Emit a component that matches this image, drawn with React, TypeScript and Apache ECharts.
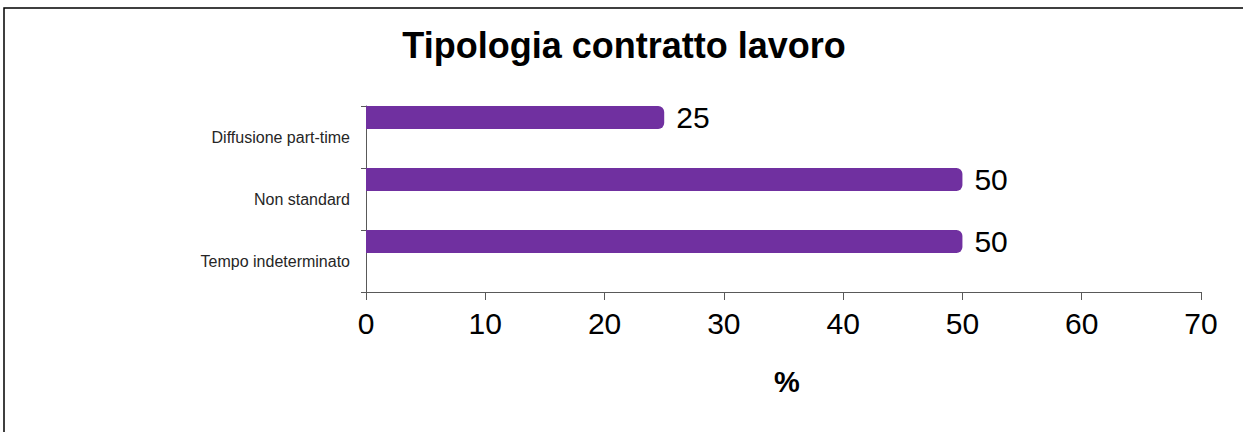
import React, { useEffect, useRef } from "react";
import * as echarts from "echarts";

const categories = ["Tempo indeterminato", "Non standard", "Diffusione part-time"];
const values = [50, 50, 25];
const xTicks = { min: 0, max: 70, interval: 10 };
const titleText = "Tipologia contratto lavoro";
const axisName = "%";

const FONT = "'Liberation Sans', Arial, Helvetica, sans-serif";

export default function App() {
  const ref = useRef<HTMLDivElement>(null);
  useEffect(() => {
    if (!ref.current) return;
    const chart = echarts.init(ref.current, null, { renderer: "svg" });
    chart.setOption({
      animation: false,
      backgroundColor: "#ffffff",
      textStyle: { fontFamily: FONT },
      grid: { left: 366, right: 42, top: 106, bottom: 140, containLabel: false },
      graphic: [
        {
          type: "rect",
          shape: { x: 4, y: 8, width: 1400, height: 600 },
          style: { fill: "none", stroke: "#000000", lineWidth: 1.5 },
          silent: true,
        },
        {
          type: "text",
          x: 624,
          y: 45,
          style: {
            text: titleText,
            font: `bold 36px ${FONT}`,
            fill: "#000000",
            textAlign: "center",
            textVerticalAlign: "middle",
          },
        },
        {
          type: "text",
          x: 787,
          y: 382,
          style: {
            text: axisName,
            font: `bold 29px ${FONT}`,
            fill: "#000000",
            textAlign: "center",
            textVerticalAlign: "middle",
          },
        },
      ],
      xAxis: {
        type: "value",
        min: xTicks.min,
        max: xTicks.max,
        interval: xTicks.interval,
        splitLine: { show: false },
        axisLine: { show: true, lineStyle: { color: "#595959", width: 1 } },
        axisTick: { show: true, length: 8, lineStyle: { color: "#595959" } },
        axisLabel: { fontSize: 30, color: "#000000", margin: 16, fontFamily: FONT },
      },
      yAxis: {
        type: "category",
        data: categories,
        axisLine: { show: true, lineStyle: { color: "#595959", width: 1 } },
        axisTick: { show: true, length: 5, lineStyle: { color: "#595959" } },
        axisLabel: { fontSize: 16, color: "#262626", margin: 16, fontFamily: FONT },
        splitLine: { show: false },
      },
      series: [
        {
          type: "bar",
          data: values,
          barWidth: 23,
          barGap: "0%",
          itemStyle: { color: "#7030A0", borderRadius: [0, 6, 6, 0] },
          label: {
            show: true,
            position: "right",
            distance: 12,
            fontSize: 30,
            color: "#000000",
            fontFamily: FONT,
          },
        },
        {
          type: "bar",
          data: values.map(() => "-"),
          barWidth: 39,
          barGap: "0%",
          silent: true,
          itemStyle: { color: "rgba(0,0,0,0)" },
          label: { show: false },
        },
      ],
    });
    return () => chart.dispose();
  }, []);
  return (
    <div
      ref={ref}
      style={{ position: "fixed", left: 0, top: 0, width: 1243, height: 432 }}
    />
  );
}
